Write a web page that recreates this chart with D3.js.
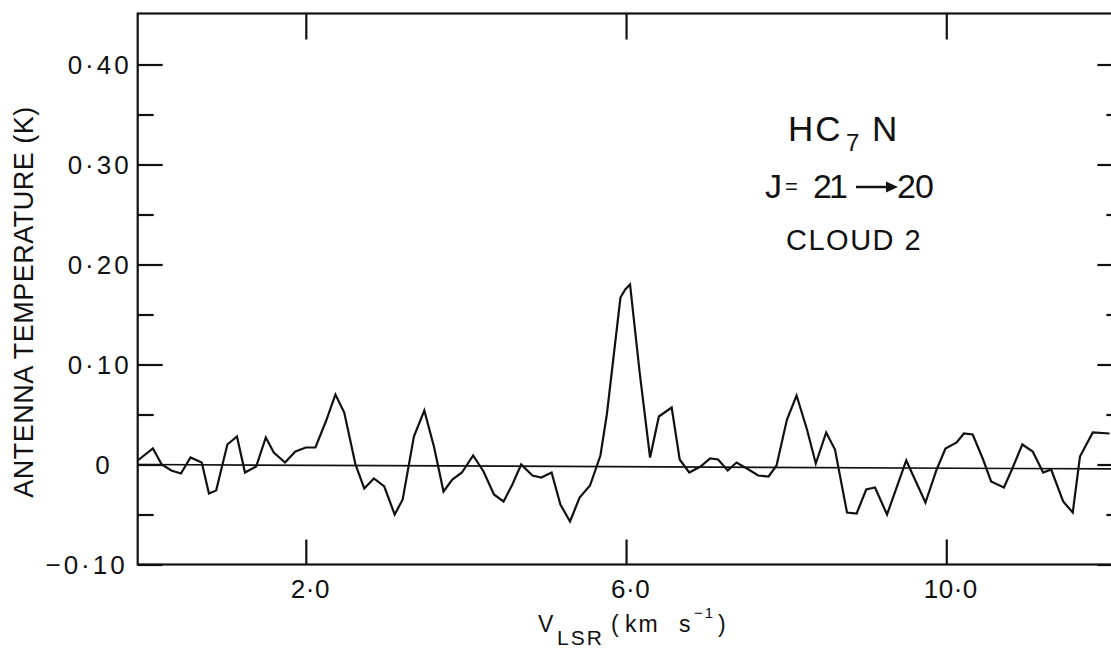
<!DOCTYPE html>
<html>
<head>
<meta charset="utf-8">
<script src="https://cdn.jsdelivr.net/npm/d3@7"></script>
<style>
  body { margin: 0; background: #fff; }
  svg { display: block; }
  text { font-family: "Liberation Sans", Arial, sans-serif; fill: #111; }
</style>
</head>
<body>
<svg class="js-spectrum" width="1111" height="650"></svg>
<script>
// spectrum: velocity (km/s) and antenna temperature (K)
var velocity = [-0.10, 0.09, 0.20, 0.32, 0.44, 0.56, 0.70, 0.79, 0.88, 1.02,
  1.14, 1.24, 1.38, 1.50, 1.60, 1.74, 1.87, 2.00, 2.12, 2.25,
  2.37, 2.48, 2.62, 2.73, 2.85, 2.98, 3.11, 3.21, 3.35, 3.48,
  3.60, 3.72, 3.83, 3.95, 4.09, 4.22, 4.35, 4.47, 4.58, 4.69,
  4.83, 4.94, 5.07, 5.18, 5.30, 5.42, 5.55, 5.68, 5.76, 5.84,
  5.93, 5.99, 6.05, 6.17, 6.30, 6.41, 6.57, 6.67, 6.79, 6.93,
  7.05, 7.15, 7.27, 7.38, 7.51, 7.65, 7.78, 7.88, 8.01, 8.13,
  8.26, 8.37, 8.50, 8.61, 8.76, 8.88, 9.00, 9.11, 9.26, 9.50,
  9.74, 9.88, 9.99, 10.13, 10.22, 10.33, 10.46, 10.56, 10.72, 10.82,
  10.95, 11.08, 11.21, 11.31, 11.46, 11.58, 11.67, 11.83, 12.04];
var antennaTemp = [0.004, 0.016, 0.000, -0.006, -0.009, 0.007, 0.002, -0.029, -0.026, 0.020,
  0.028, -0.008, -0.002, 0.027, 0.012, 0.002, 0.013, 0.017, 0.017, 0.043,
  0.070, 0.052, 0.000, -0.024, -0.014, -0.022, -0.050, -0.035, 0.028, 0.054,
  0.018, -0.027, -0.015, -0.008, 0.009, -0.007, -0.030, -0.037, -0.020, 0.000,
  -0.011, -0.013, -0.008, -0.040, -0.057, -0.033, -0.021, 0.009, 0.050, 0.105,
  0.167, 0.175, 0.180, 0.092, 0.007, 0.048, 0.057, 0.005, -0.008, -0.002,
  0.006, 0.005, -0.006, 0.002, -0.004, -0.011, -0.012, -0.001, 0.045, 0.069,
  0.035, 0.001, 0.032, 0.015, -0.048, -0.049, -0.025, -0.023, -0.050, 0.004,
  -0.038, -0.005, 0.016, 0.022, 0.031, 0.030, 0.005, -0.017, -0.023, -0.005,
  0.020, 0.013, -0.008, -0.005, -0.037, -0.048, 0.008, 0.032, 0.031];

// fitted baseline (slightly tilted)
var baselineVel = [-0.10, 12.2];
var baselineTemp = [0.000, -0.0045];

var xTicks = [2, 6, 10],
    xTickLabels = ['2·0', '6·0', '10·0'];
var yTicks = [-0.1, 0, 0.1, 0.2, 0.3, 0.4],
    yTickLabels = ['\u22120·10', '0', '0·10', '0·20', '0·30', '0·40'],
    yMinorTicks = [-0.05, 0.05, 0.15, 0.25, 0.35];

var svg = d3.select('.js-spectrum');

var x = d3.scaleLinear().domain([-0.1, 12.2]).range([137.7, 1122.4]),
    y = d3.scaleLinear().domain([-0.1, 0.451]).range([564.5, 13.5]);

var plotLeft = x.range()[0], plotRight = x.range()[1],
    plotTop = y.range()[1], plotBottom = y.range()[0];

function styleAxis(g) {
  g.select('.domain').remove();
  g.selectAll('line').attr('stroke', '#111').attr('stroke-width', 2.2);
  g.selectAll('text').style('font-size', '26px').attr('fill', '#111');
}

// bottom axis with labels
svg.append('g')
    .attr('transform', 'translate(0,' + plotBottom + ')')
    .call(d3.axisBottom(x).tickValues(xTicks).tickSize(-25).tickPadding(15)
      .tickFormat(function(d, i) { return xTickLabels[i]; }))
    .call(styleAxis)
    .selectAll('text').attr('dx', 4).style('letter-spacing', '0.5px');

// top axis, ticks only
svg.append('g')
    .attr('transform', 'translate(0,' + plotTop + ')')
    .call(d3.axisTop(x).tickValues(xTicks).tickSize(-26).tickFormat(''))
    .call(styleAxis);

// left axis major + labels
var yAxisG = svg.append('g')
    .attr('transform', 'translate(' + plotLeft + ',0)')
    .call(d3.axisLeft(y).tickValues(yTicks).tickSize(-25).tickPadding(6)
      .tickFormat(function(d, i) { return yTickLabels[i]; }))
    .call(styleAxis);
yAxisG.selectAll('text')
    .style('letter-spacing', '3px')
    .attr('dy', '0.36em')
    .attr('dx', function(d) { return d === 0 ? -19 : (d < 0 ? -4 : 0); });

svg.append('g')
    .attr('transform', 'translate(' + plotLeft + ',0)')
    .call(d3.axisLeft(y).tickValues(yMinorTicks).tickSize(-16).tickFormat(''))
    .call(styleAxis);

// right axis ticks
svg.append('g')
    .attr('transform', 'translate(' + plotRight + ',0)')
    .call(d3.axisRight(y).tickValues(yTicks).tickSize(-25).tickFormat(''))
    .call(styleAxis);
svg.append('g')
    .attr('transform', 'translate(' + plotRight + ',0)')
    .call(d3.axisRight(y).tickValues(yMinorTicks).tickSize(-16).tickFormat(''))
    .call(styleAxis);

// frame
svg.append('rect')
    .attr('x', plotLeft).attr('y', plotTop)
    .attr('width', plotRight - plotLeft).attr('height', plotBottom - plotTop)
    .attr('fill', 'none').attr('stroke', '#111').attr('stroke-width', 2.2);

// baseline
svg.append('line')
    .attr('x1', x(baselineVel[0])).attr('y1', y(baselineTemp[0]))
    .attr('x2', x(baselineVel[1])).attr('y2', y(baselineTemp[1]))
    .attr('stroke', '#111').attr('stroke-width', 1.7);

// spectrum
var line = d3.line()
    .x(function(d) { return x(d[0]); })
    .y(function(d) { return y(d[1]); });
svg.append('path')
    .datum(d3.zip(velocity, antennaTemp))
    .attr('d', line)
    .attr('fill', 'none')
    .attr('stroke', '#111')
    .attr('stroke-width', 2.2)
    .attr('stroke-linejoin', 'miter');

// axis titles
svg.append('text')
    .attr('transform', 'translate(33,302) rotate(-90)')
    .attr('text-anchor', 'middle')
    .style('font-size', '27px')
    .style('letter-spacing', '0.5px')
    .text('ANTENNA TEMPERATURE (K)');

var xt = svg.append('text').style('font-size', '23px');
xt.append('tspan').attr('x', 538).attr('y', 632).text('V');
xt.append('tspan').attr('x', 557).attr('y', 645).style('font-size', '21px').style('letter-spacing', '2px').text('LSR');
xt.append('tspan').attr('x', 611).attr('y', 632).text('(');
xt.append('tspan').attr('x', 625).attr('y', 632).style('letter-spacing', '2px').text('km');
xt.append('tspan').attr('x', 679).attr('y', 632).text('s');
xt.append('tspan').attr('x', 694).attr('y', 618).style('font-size', '15px').style('letter-spacing', '2px').text('\u22121');
xt.append('tspan').attr('x', 718).attr('y', 632).text(')');

// annotation
var a1 = svg.append('text').style('font-size', '35px');
a1.append('tspan').attr('x', 788).attr('y', 141).style('letter-spacing', '2px').text('HC');
a1.append('tspan').attr('x', 846).attr('y', 151).style('font-size', '24px').text('7');
a1.append('tspan').attr('x', 872).attr('y', 141).text('N');

var a2 = svg.append('text').style('font-size', '34px');
a2.append('tspan').attr('x', 765).attr('y', 198).text('J');
a2.append('tspan').attr('x', 785).attr('y', 194).style('font-size', '22px').text('=');
a2.append('tspan').attr('x', 813).attr('y', 198).style('letter-spacing', '-3px').text('21');
a2.append('tspan').attr('x', 897).attr('y', 198).style('letter-spacing', '-1px').text('20');

svg.append('line')
    .attr('x1', 856).attr('y1', 187).attr('x2', 888).attr('y2', 187)
    .attr('stroke', '#111').attr('stroke-width', 2.5);
svg.append('path')
    .attr('d', 'M886,181.5L898,187L886,192.5Z')
    .attr('fill', '#111');

svg.append('text')
    .attr('x', 786).attr('y', 250)
    .style('font-size', '29px')
    .style('letter-spacing', '1.5px')
    .text('CLOUD 2');
</script>
</body>
</html>
